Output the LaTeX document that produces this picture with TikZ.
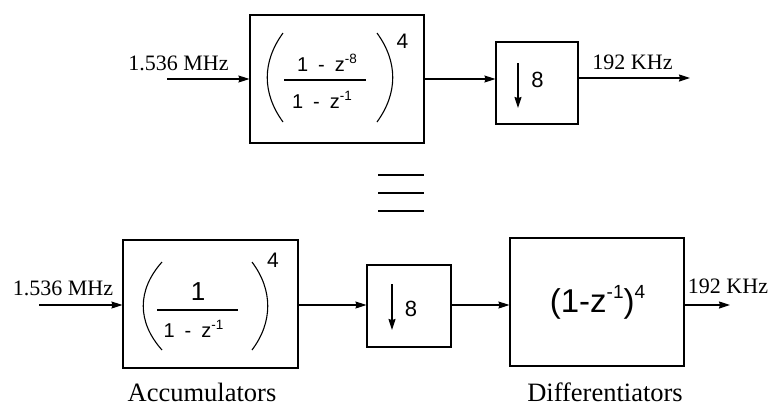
\documentclass[tikz,border=0pt]{standalone}
\usepackage{fontspec}
\setmainfont{Liberation Serif}
\newfontfamily\helv{Liberation Sans}
\usepackage{tikz}
\usetikzlibrary{
    arrows.meta,
    positioning
}
\newcommand{\wsp}{\hspace{0.5em}}
\newcommand{\expo}[1]{\raisebox{7.5pt}{\fontsize{13.5}{13.5}\selectfont #1}}
\newcommand{\bigexpo}[1]{\raisebox{14pt}{\fontsize{19}{19}\selectfont #1}}

\begin{document}
\begin{tikzpicture}[
        x=1pt, y=-1pt,
        >={Stealth[length=11pt,width=7pt,inset=1pt]},
        block/.style={
            draw,
            line width=1.1pt,
            inner sep=0pt
        },
        wire/.style={->, line width=1.1pt},
        paren/.style={line width=1.1pt},
        rate/.style={font=\fontsize{22}{26}\selectfont, inner sep=0pt, anchor=base},
        caption/.style={font=\fontsize{26.5}{30}\selectfont, inner sep=0pt, anchor=base},
        eqn/.style={font=\helv\fontsize{20}{23}\selectfont, inner sep=0pt, anchor=base}
    ]
        \useasboundingbox (0,0) rectangle (772,408);

        % top: comb filter then decimation
        \node[block, minimum width=174pt, minimum height=128pt] (sinc) at (337,79) {};
        \node[block, minimum width=82pt, minimum height=82pt] (decT) at (537,83) {};
        \coordinate (inT) at (167,79);
        \coordinate (outT) at (690,78);
        \node[rate] (fsInT) at (178.5,70) {1.536 MHz};
        \node[rate] (fsOutT) at (632.5,69) {192 KHz};

        \node[eqn] (numT) at (327,71) {1\wsp-\wsp z\expo{-8}};
        \node[eqn] (denT) at (322,108) {1\wsp-\wsp z\expo{-1}};
        \draw[line width=1.1pt] (284,80) -- (366,80);
        \draw[paren] (283,33) .. controls (262,62) and (262,93) .. (283,122);
        \draw[paren] (377,33) .. controls (398,62) and (398,93) .. (377,122);
        \node[eqn, font=\helv\fontsize{21}{24}\selectfont, anchor=center] (powT) at (402.5,41) {4};

        \draw[wire] (518,63) -- (518,108);
        \node[eqn, font=\helv\fontsize{22}{26}\selectfont] (facT) at (537.5,87) {8};

        \draw[wire] (inT) -- (sinc.west);
        \draw[wire] (sinc.east) -- (sinc.east -| decT.west);
        \draw[wire] (outT -| decT.east) -- (outT);

        % equivalence sign
        \foreach \yy in {175,193,211}
            \draw[line width=1.1pt] (378,\yy) -- (424,\yy);

        % bottom: accumulators, decimation, differentiators
        \node[block, minimum width=175pt, minimum height=128pt] (acc) at (210.5,304) {};
        \node[block, minimum width=84pt, minimum height=82pt] (decB) at (409,306) {};
        \node[block, minimum width=174pt, minimum height=128pt] (diff) at (597,302) {};
        \coordinate (inB) at (39,305);
        \coordinate (outB) at (730,305);
        \node[rate] (fsInB) at (63,295) {1.536 MHz};
        \node[rate] (fsOutB) at (728,293) {192 KHz};

        \node[eqn, font=\helv\fontsize{26}{30}\selectfont] (numB) at (198,300) {1};
        \node[eqn] (denB) at (193.5,337) {1\wsp-\wsp z\expo{-1}};
        \draw[line width=1.1pt] (157,310) -- (238,310);
        \draw[paren] (162,262) .. controls (137,290) and (137,322) .. (162,350);
        \draw[paren] (252,262) .. controls (273,290) and (273,322) .. (252,350);
        \node[eqn, font=\helv\fontsize{21}{24}\selectfont, anchor=center] (powB) at (273,260) {4};

        \draw[wire] (392,284) -- (392,330);
        \node[eqn, font=\helv\fontsize{22}{26}\selectfont] (facB) at (411,316) {8};

        \node[eqn, font=\helv\fontsize{33}{38}\selectfont] (diffEq) at (597.5,312) {(1-z\bigexpo{-1})\bigexpo{4}};

        \draw[wire] (inB) -- (inB -| acc.west);
        \draw[wire] (acc.east |- inB) -- (decB.west |- inB);
        \draw[wire] (decB.east |- inB) -- (diff.west |- inB);
        \draw[wire] (diff.east |- outB) -- (outB);

        \node[caption] (accLbl) at (202,401) {Accumulators};
        \node[caption] (diffLbl) at (605,401) {Differentiators};
    \end{tikzpicture}
\end{document}
